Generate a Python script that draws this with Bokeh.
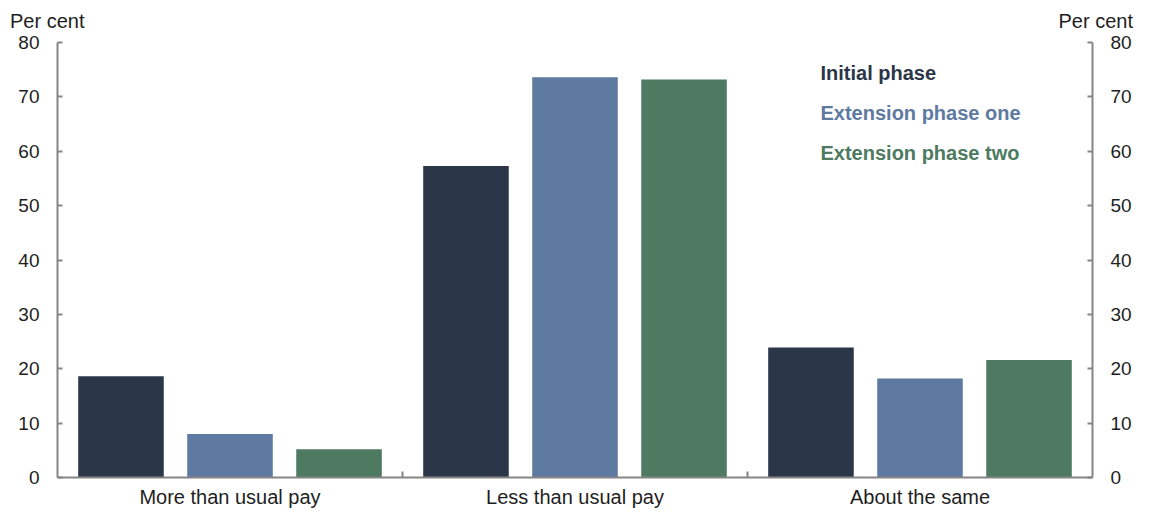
from bokeh.plotting import figure
from bokeh.models import Range1d, LinearAxis, FixedTicker, Label, Div
from bokeh.layouts import column
from bokeh.embed import file_html
from bokeh.resources import INLINE

categories = ["More than usual pay", "Less than usual pay", "About the same"]
series_names = ["Initial phase", "Extension phase one", "Extension phase two"]
initial = [18.6, 57.3, 23.9]
ext_one = [8.0, 73.6, 18.2]
ext_two = [5.2, 73.2, 21.6]
y_ticks = [0, 10, 20, 30, 40, 50, 60, 70, 80]
unit_label = "Per cent"

colors = ["#2c3649", "#5f7aa0", "#4d7a61"]
offsets = [-0.316, 0.0, 0.316]
FONT = "Liberation Sans"
AXIS_COL = "#858585"
TXT_COL = "#1e1e1e"

W = 1134
HEAD_H = 30
MAIN_H = 480
LEFT_B, RIGHT_B, TOP_B, BOT_B = 57, 42, 12, 32

# header strip carrying the unit labels above both axes
head_html = (
    f'<div style="display:flex;justify-content:space-between;box-sizing:border-box;'
    f'width:{W}px;padding:10px 1px 0 10px;font-family:\'{FONT}\';font-size:20px;'
    f'line-height:22px;color:{TXT_COL};">'
    f'<span>{unit_label}</span><span>{unit_label}</span></div>'
)
head = Div(text=head_html, width=W, height=HEAD_H, margin=0)

p = figure(width=W, height=MAIN_H, output_backend="svg", toolbar_location=None,
           x_range=Range1d(0, 3), y_range=Range1d(0, 80),
           min_border_left=LEFT_B, min_border_right=RIGHT_B,
           min_border_top=TOP_B, min_border_bottom=BOT_B,
           y_axis_location=None, x_axis_location=None)
p.outline_line_color = None
p.grid.visible = False

for vals, col, off in zip([initial, ext_one, ext_two], colors, offsets):
    xs = [i + 0.5 + off for i in range(len(categories))]
    p.vbar(x=xs, top=vals, width=0.248, fill_color=col, line_color=None)

# bottom axis: labels at group centres, small inward ticks between groups
xaxis = LinearAxis(ticker=FixedTicker(ticks=[i + 0.5 for i in range(len(categories))],
                                      minor_ticks=[float(i) for i in range(1, len(categories))]))
xaxis.major_label_overrides = {i + 0.5: c for i, c in enumerate(categories)}
xaxis.major_tick_line_color = None
xaxis.minor_tick_in = 6
xaxis.minor_tick_out = 0
xaxis.minor_tick_line_color = AXIS_COL
xaxis.minor_tick_line_width = 2
xaxis.axis_line_color = AXIS_COL
xaxis.axis_line_width = 2
xaxis.major_label_text_font = FONT
xaxis.major_label_text_font_size = "20px"
xaxis.major_label_text_color = TXT_COL
xaxis.major_label_standoff = 2
p.add_layout(xaxis, "below")

for side in ["left", "right"]:
    ax = LinearAxis(ticker=FixedTicker(ticks=y_ticks, minor_ticks=[]))
    ax.major_tick_in = 5
    ax.major_tick_out = 0
    ax.major_tick_line_color = AXIS_COL
    ax.major_tick_line_width = 2
    ax.axis_line_color = AXIS_COL
    ax.axis_line_width = 2
    ax.major_label_text_font = FONT
    ax.major_label_text_font_size = "19px"
    ax.major_label_text_color = TXT_COL
    ax.major_label_standoff = 18
    p.add_layout(ax, side)

# legend as coloured text, top right inside the plot area
frame_h = MAIN_H - TOP_B - BOT_B
for k, (name, col) in enumerate(zip(series_names, colors)):
    p.add_layout(Label(x=763, y=frame_h - 31 - 40 * k, x_units="screen", y_units="screen",
                       text=name, text_font=FONT, text_font_size="20px",
                       text_font_style="bold", text_color=col,
                       text_align="left", text_baseline="middle"))

layout = column(head, p, spacing=0)
open("out.html", "w").write(file_html(layout, INLINE))
